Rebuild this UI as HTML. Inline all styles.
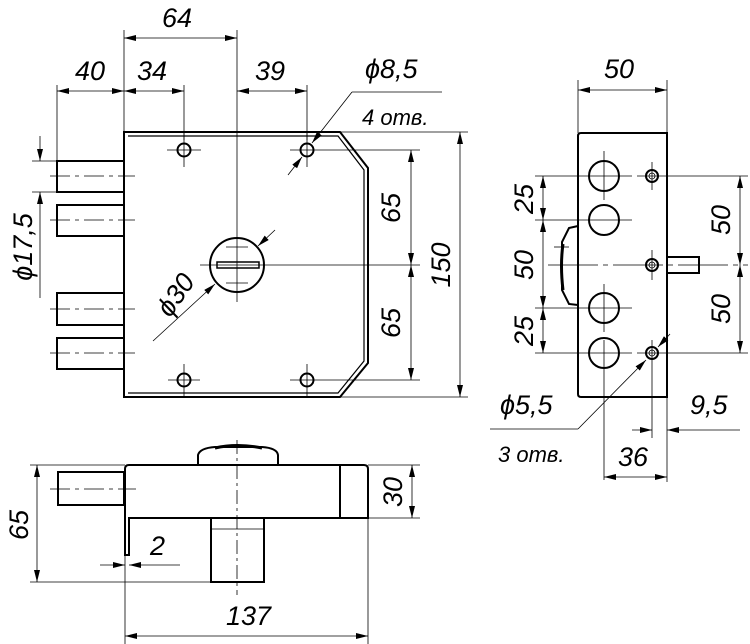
<!DOCTYPE html>
<html><head><style>
html,body{margin:0;padding:0;background:#fff;}
svg{display:block;}
text{font-family:"Liberation Sans",sans-serif;font-style:italic;font-size:27px;fill:#000;}
</style></head><body>
<svg width="750" height="644" viewBox="0 0 750 644" xmlns="http://www.w3.org/2000/svg">
<defs>
<marker id="a" viewBox="0 0 12 6" refX="12" refY="3" markerWidth="12" markerHeight="6" orient="auto-start-reverse" markerUnits="userSpaceOnUse"><path d="M0,0 L12,3 L0,6 Z" fill="#000"/></marker>
</defs>
<g fill="none" stroke="#000" stroke-width="1">
<!-- FRONT VIEW -->
<g stroke-width="2">
<path d="M124,132 L340,132 L368,168 L368,363 L340,397 L124,397 Z"/>
<path d="M128,136 L338,136 L364,170 L364,361 L338,393 L128,393" stroke-width="1.2"/>
<rect x="57" y="161" width="67" height="31"/>
<rect x="57" y="205" width="67" height="31"/>
<rect x="57" y="293" width="67" height="32"/>
<rect x="57" y="338" width="67" height="31"/>
<circle cx="184" cy="150" r="6.5"/><circle cx="307" cy="150" r="6.5"/>
<circle cx="184" cy="380" r="6.5"/><circle cx="307" cy="380" r="6.5"/>
<circle cx="237" cy="265" r="27"/>
<rect x="217" y="262" width="42" height="6" stroke-width="1.5"/>
</g>
<g stroke-width="0.8">
<line x1="50" y1="176" x2="135" y2="176" stroke-dasharray="20,5,4,5"/>
<line x1="50" y1="220" x2="135" y2="220" stroke-dasharray="20,5,4,5"/>
<line x1="50" y1="309" x2="135" y2="309" stroke-dasharray="20,5,4,5"/>
<line x1="50" y1="353" x2="135" y2="353" stroke-dasharray="20,5,4,5"/>
<line x1="167" y1="150" x2="201" y2="150"/><line x1="184" y1="133" x2="184" y2="167"/>
<line x1="290" y1="150" x2="420" y2="150"/><line x1="307" y1="133" x2="307" y2="167"/>
<line x1="168" y1="380" x2="200" y2="380"/><line x1="184" y1="364" x2="184" y2="396"/>
<line x1="290" y1="380" x2="420" y2="380"/><line x1="307" y1="364" x2="307" y2="396"/>
<line x1="237" y1="30" x2="237" y2="302"/>
<line x1="200" y1="265" x2="420" y2="265"/>
<line x1="226" y1="247" x2="248" y2="247"/><line x1="226" y1="283" x2="248" y2="283"/>
<line x1="340" y1="132" x2="468" y2="132"/><line x1="340" y1="397" x2="468" y2="397"/>
<!-- top dims -->
<line x1="124" y1="30" x2="124" y2="132"/>
<line x1="57" y1="85" x2="57" y2="161"/>
<line x1="184" y1="85" x2="184" y2="140"/>
<line x1="307" y1="85" x2="307" y2="140"/>
<line x1="124" y1="38" x2="237" y2="38" marker-start="url(#a)" marker-end="url(#a)"/>
<line x1="57" y1="91" x2="124" y2="91" marker-start="url(#a)" marker-end="url(#a)"/>
<line x1="124" y1="91" x2="184" y2="91" marker-start="url(#a)" marker-end="url(#a)"/>
<line x1="237" y1="91" x2="307" y2="91" marker-start="url(#a)" marker-end="url(#a)"/>
<!-- right dims -->
<line x1="411" y1="150" x2="411" y2="265" marker-start="url(#a)" marker-end="url(#a)"/>
<line x1="411" y1="265" x2="411" y2="380" marker-start="url(#a)" marker-end="url(#a)"/>
<line x1="460" y1="132" x2="460" y2="397" marker-start="url(#a)" marker-end="url(#a)"/>
<!-- phi17.5 -->
<line x1="32" y1="161" x2="57" y2="161"/><line x1="32" y1="192" x2="57" y2="192"/>
<line x1="40" y1="136" x2="40" y2="161" marker-end="url(#a)"/>
<line x1="40" y1="298" x2="40" y2="192" marker-end="url(#a)"/>
<!-- phi30 leader -->
<line x1="153" y1="341" x2="215" y2="284" marker-end="url(#a)"/>
<line x1="275" y1="230" x2="258" y2="246" marker-end="url(#a)"/>
<!-- phi8.5 leader -->
<line x1="442" y1="92" x2="352" y2="92"/>
<line x1="352" y1="92" x2="312" y2="143" marker-end="url(#a)"/>
<line x1="288" y1="175" x2="302" y2="157" marker-end="url(#a)"/>
</g>

<!-- SIDE VIEW -->
<g stroke-width="2">
<path d="M581,133 L667,133 L667,397 L581,397 Q578,397 578,394 L578,136 Q578,133 581,133 Z"/>
<circle cx="604" cy="176" r="15"/><circle cx="604" cy="220" r="15"/>
<circle cx="604" cy="308" r="15"/><circle cx="604" cy="353" r="15"/>
<circle cx="652" cy="176" r="6"/><circle cx="652" cy="265" r="6"/><circle cx="652" cy="353" r="6"/>
<rect x="667" y="257" width="32" height="16"/>
<path d="M578,226 L569,228 L562,242 L562,290 L569,304 L578,305"/>
<path d="M563,244 Q560,265 563,290" stroke-width="3"/>
</g>
<g stroke-width="0.8">
<circle cx="652" cy="176" r="3"/><circle cx="652" cy="265" r="3"/><circle cx="652" cy="353" r="3"/>
<line x1="604" y1="151" x2="604" y2="200"/><line x1="604" y1="284" x2="604" y2="332"/>
<line x1="604" y1="340" x2="604" y2="480"/>
<line x1="652" y1="162" x2="652" y2="190"/><line x1="652" y1="250" x2="652" y2="280"/><line x1="652" y1="340" x2="652" y2="438"/>
<line x1="535" y1="176" x2="632" y2="176"/><line x1="637" y1="176" x2="748" y2="176"/>
<line x1="535" y1="220" x2="632" y2="220"/>
<line x1="535" y1="308" x2="632" y2="308"/>
<line x1="535" y1="353" x2="632" y2="353"/><line x1="637" y1="353" x2="748" y2="353"/>
<line x1="554" y1="247" x2="569" y2="247"/>
<line x1="548" y1="265" x2="748" y2="265" stroke-dasharray="50,5,5,5"/>
<line x1="543" y1="176" x2="543" y2="220" marker-start="url(#a)" marker-end="url(#a)"/>
<line x1="543" y1="220" x2="543" y2="308" marker-start="url(#a)" marker-end="url(#a)"/>
<line x1="543" y1="308" x2="543" y2="353" marker-start="url(#a)" marker-end="url(#a)"/>
<line x1="740" y1="176" x2="740" y2="265" marker-start="url(#a)" marker-end="url(#a)"/>
<line x1="740" y1="265" x2="740" y2="353" marker-start="url(#a)" marker-end="url(#a)"/>
<line x1="578" y1="80" x2="578" y2="133"/><line x1="667" y1="80" x2="667" y2="133"/>
<line x1="667" y1="397" x2="667" y2="482"/>
<line x1="578" y1="90" x2="667" y2="90" marker-start="url(#a)" marker-end="url(#a)"/>
<line x1="604" y1="477" x2="667" y2="477" marker-start="url(#a)" marker-end="url(#a)"/>
<line x1="632" y1="430" x2="652" y2="430" marker-end="url(#a)"/>
<line x1="740" y1="430" x2="667" y2="430" marker-end="url(#a)"/>
<line x1="490" y1="429" x2="578" y2="429"/>
<line x1="578" y1="429" x2="646" y2="360" marker-end="url(#a)"/>
<line x1="670" y1="334" x2="658" y2="347" marker-end="url(#a)"/>
</g>

<!-- BOTTOM VIEW -->
<g stroke-width="2">
<path d="M125,555 L125,469 Q125,465 129,465 L364,465 Q368,465 368,469 L368,518 L129,518 L129,555 Z"/>
<line x1="340" y1="465" x2="340" y2="518"/>
<rect x="58" y="472" width="66" height="33"/>
<rect x="211" y="518" width="53" height="64"/>
<path d="M198,465 L198,455 Q200,448 215,447 L262,447 Q277,448 278,455 L278,465"/>
<path d="M215,448 Q237,443 262,448" stroke-width="3"/>
</g>
<g stroke-width="0.8">
<line x1="211" y1="529" x2="264" y2="529"/>
<line x1="50" y1="489" x2="136" y2="489" stroke-dasharray="20,5,4,5"/>
<line x1="237" y1="440" x2="237" y2="595" stroke-dasharray="14,4,3,4"/>
<line x1="30" y1="465" x2="125" y2="465"/>
<line x1="30" y1="582" x2="211" y2="582"/>
<line x1="37" y1="465" x2="37" y2="582" marker-start="url(#a)" marker-end="url(#a)"/>
<line x1="368" y1="465" x2="420" y2="465"/><line x1="368" y1="518" x2="420" y2="518"/>
<line x1="412" y1="465" x2="412" y2="518" marker-start="url(#a)" marker-end="url(#a)"/>
<line x1="125" y1="555" x2="125" y2="644"/><line x1="368" y1="518" x2="368" y2="644"/>
<line x1="125" y1="636" x2="368" y2="636" marker-start="url(#a)" marker-end="url(#a)"/>
<line x1="100" y1="565" x2="125" y2="565" marker-end="url(#a)"/>
<line x1="180" y1="565" x2="129" y2="565" marker-end="url(#a)"/>
</g>
</g>

<!-- TEXT -->
<text x="162" y="27">64</text>
<text x="75" y="80">40</text>
<text x="137" y="80">34</text>
<text x="255" y="80">39</text>
<text x="365" y="78">ϕ8,5</text>
<text x="362" y="125" style="font-size:22px">4  отв.</text>
<text transform="translate(400,208) rotate(-90)" text-anchor="middle">65</text>
<text transform="translate(400,323) rotate(-90)" text-anchor="middle">65</text>
<text transform="translate(450,265) rotate(-90)" text-anchor="middle">150</text>
<text transform="translate(32,247) rotate(-90)" text-anchor="middle">ϕ17,5</text>
<text transform="translate(183,300) rotate(-55)" text-anchor="middle">ϕ30</text>
<text x="604" y="78">50</text>
<text transform="translate(533,199) rotate(-90)" text-anchor="middle">25</text>
<text transform="translate(533,265) rotate(-90)" text-anchor="middle">50</text>
<text transform="translate(533,331) rotate(-90)" text-anchor="middle">25</text>
<text transform="translate(730,220) rotate(-90)" text-anchor="middle">50</text>
<text transform="translate(730,309) rotate(-90)" text-anchor="middle">50</text>
<text x="500" y="414">ϕ5,5</text>
<text x="690" y="414">9,5</text>
<text x="498" y="462" style="font-size:22px">3  отв.</text>
<text x="618" y="466">36</text>
<text transform="translate(28,525) rotate(-90)" text-anchor="middle">65</text>
<text transform="translate(402,492) rotate(-90)" text-anchor="middle">30</text>
<text x="150" y="555">2</text>
<text x="226" y="625">137</text>
</svg>
</body></html>
